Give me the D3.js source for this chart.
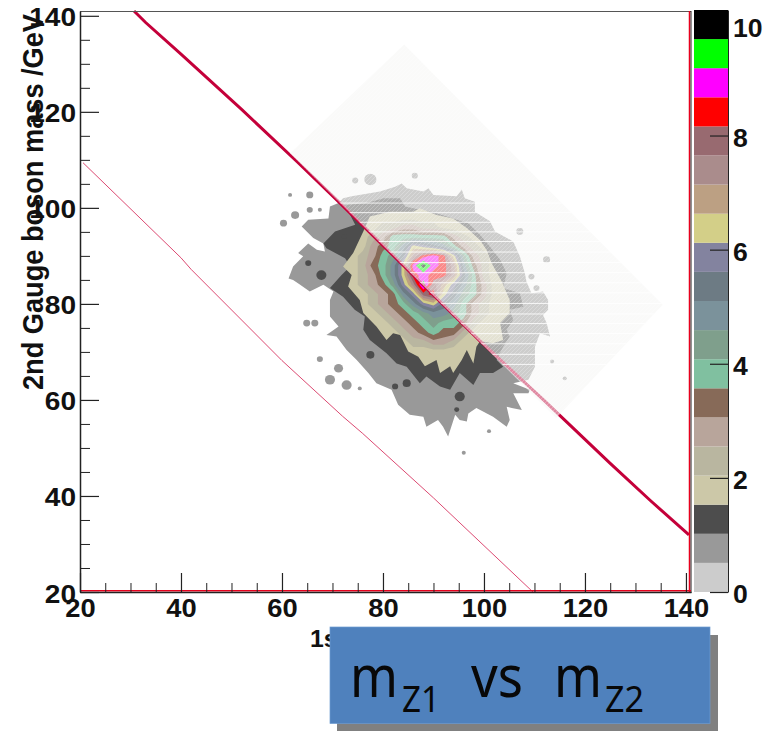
<!DOCTYPE html>
<html><head><meta charset="utf-8">
<script src="https://cdn.jsdelivr.net/npm/d3@7"></script>
<style>html,body{margin:0;padding:0;background:#fff}svg{display:block}</style>
</head><body><svg id="c" width="768" height="731"></svg>
<script>
// ---- data ----
const xRange = [20, 141], yRange = [20, 141], zRange = [0, 10.2];
const xMajor = [20, 40, 60, 80, 100, 120, 140];
const yMajor = [20, 40, 60, 80, 100, 120, 140];
const zTicks = [0, 2, 4, 6, 8];
const zLabels = [0, 2, 4, 6, 8, 10];
const minorStep = [25,30,35,45,50,55,65,70,75,85,90,95,105,110,115,125,130,135];
const palette = ["#cccccc","#999999","#4d4d4d","#ccc8a8","#b9b6a0","#b8a59b","#876a58","#80c0a0","#7f9f8c","#7b929b","#6d7b84","#83839f","#d3cf88","#bca083","#aa8c8c","#986a70","#ff0000","#ff00ff","#00ff00","#000000"];
// outer contours traced in GeV (x, y)
const grayOutline = [[72.1,102],[73.8,102.4],[79.4,103.4],[82.4,104.4],[83.7,105.1],[84.7,104.1],[88,103.4],[89,104.1],[90,102.7],[94.6,102.4],[95.6,103.8],[96.2,102],[98.2,101.3],[98.2,99.2],[101.2,97.2],[102.2,95.1],[105.8,93],[107.1,89.9],[108.1,86.4],[108.4,84.7],[109.4,82.2],[111.7,82.6],[112.7,80.8],[112.7,78.8],[111.7,77.7],[112.4,76],[113.1,73.2],[111.1,73.9],[110.1,71.1],[110.1,66.9],[108.8,64.2],[105.8,63.5],[109.1,62.1],[108.8,61.4],[105.8,61.4],[107.5,57.9],[105.5,58.3],[104.5,58.6],[105.1,55.8],[104.5,54.4],[101.8,56.5],[98.5,58.3],[96.9,57.2],[96.6,55.5],[95.2,55.8],[94.3,56.9],[92.9,52.4],[91.9,54.4],[90.9,55.8],[88.6,54.4],[88,56.5],[85.3,56.9],[83,59],[81.7,62.1],[78.7,63.5],[77.1,65.6],[74.8,68.3],[72.8,70.4],[70.8,73.2],[68.8,73.5],[71.2,75.3],[69.5,77.4],[69.5,80.8],[70.2,82.6],[68.2,84],[65.5,82.6],[63.6,84],[62.2,85],[61.3,85.3],[62.2,87.8],[64.2,89.9],[63.2,90.6],[65.2,92.6],[66.9,91.3],[68.5,90.9],[68.2,92.6],[66.2,93.7],[63.9,96.1],[65.2,97.5],[69.2,97.8],[69.5,100.3],[71.2,101]];
const darkOutline = [[72.5,100.6],[76.8,101],[80.1,102],[83.4,102],[84.4,100.3],[87.3,99.6],[90.6,98.9],[93.9,97.8],[96.9,96.8],[99.2,94.4],[101.2,91.9],[103.2,89.2],[104.5,86.4],[103.8,83.3],[107.1,82.2],[107.8,79.4],[105.1,78.8],[105.8,76.7],[104.5,74.6],[105.1,73.2],[103.8,71.1],[102.5,68.3],[103.8,66.9],[101.8,65.6],[99.2,65.6],[97.9,63.1],[95.2,65.6],[93.3,62.1],[91.3,62.8],[88.6,64.9],[87.3,63.5],[84.7,66.9],[82.7,67.6],[80.7,69.7],[77.4,72.5],[76.1,74.6],[76.4,77.4],[74.4,78.8],[72.1,81.5],[69.5,83.3],[71.8,86],[73.5,87.8],[72.5,89.5],[68.8,91.6],[68.2,92.6],[70.5,95.1],[74.5,96.5],[73.5,98.5]];
const tanOutline = [[77.4,98.2],[80.1,98.9],[81.4,99.2],[86,99.2],[87.3,99.9],[90.6,98.5],[93.9,97.8],[96.6,95.8],[99.2,93.3],[100.5,91.3],[101.5,88.5],[103.5,84.7],[105.1,80.8],[105.1,78.1],[103.2,76],[103.8,72.5],[101.8,71.8],[99.2,72.2],[98.5,71.1],[97.9,67.6],[96.6,70.4],[95.6,68.3],[93.9,65.6],[93.3,67],[91.3,65.6],[90.6,68.3],[88.3,67],[87,69],[85,70.1],[83.4,73.5],[82,73.9],[80.7,72.5],[78.7,75.3],[76.1,78.1],[75.4,80.8],[73.1,83.6],[73.8,86],[72.1,87.8],[74.1,90.6],[76.1,95.1]];
// small detached patches: x, y, half-size (GeV)
const grayPatches = [[60.3,96.8,.7],[62.6,98.5,.8],[65.5,99.6,.6],[67.5,99.6,.4],[74.5,105.7,.6],[77.5,105.9,1.2],[86.3,106.7,.6],[65.5,102.7,.7],[61.6,102.7,.4],[69.5,64.2,1],[72.8,63.1,1],[71.2,66.6,.9],[67.5,68.5,.6],[64.9,76,.7],[66.5,76,.7],[75.4,62.4,.4],[112.4,89.2,.7],[109.4,85.7,.6],[110.4,83.3,.6],[107.1,95.1,.7],[113.5,68,.4],[116,64.5,.4],[101,53.5,.4],[96,49,.4]];
const darkPatches = [[67.8,86,1],[65.2,88.5,.6],[95.2,60.7,1],[82.4,62.8,.6],[84.7,63.5,.8],[77.5,69.4,.8],[94.6,58,.5],[72.3,94,.5]];
const gridX0 = 58, gridY0 = 108, gridStep = 2;
// colour-bin index of the inner 2D histogram; rows y=108..50 (step -2), columns x=58..118 (step 2)
const bins = [
[0,0,0,0,0,0,0,0,0,0,0,0,0,0,0,0,0,0,0,0,0,0,0,0,0,0,0,0,0,0,0],
[0,0,0,0,0,0,0,0,0,0,1,0,0,0,0,0,0,0,0,0,0,0,0,0,0,0,0,0,0,0,0],
[0,0,0,0,0,0,0,0,0,0,0,1,1,1,1,1,0,0,0,0,0,0,0,0,0,0,0,0,0,0,0],
[0,0,0,0,0,0,0,0,1,1,1,1,2,1,1,1,1,1,1,0,0,0,0,0,0,0,0,0,0,0,0],
[0,0,0,0,0,0,1,2,2,2,2,2,2,1,2,3,2,2,1,1,1,0,0,0,0,0,0,0,0,0,0],
[0,0,0,0,1,1,1,2,2,3,3,3,3,3,3,3,3,3,2,2,1,1,1,0,0,0,0,0,0,0,0],
[0,0,0,1,1,1,1,2,2,3,3,4,4,5,5,4,4,3,3,2,2,1,1,0,0,0,0,0,0,0,0],
[0,0,0,1,1,1,2,2,2,3,4,5,7,7,7,7,7,7,5,4,3,2,1,1,0,0,0,0,0,0,0],
[0,0,0,1,0,1,2,2,3,3,5,6,7,9,12,11,10,9,7,5,4,3,2,1,0,0,0,0,0,0,0],
[0,0,1,1,1,1,2,2,3,4,5,7,8,10,14,16,17,16,12,8,5,4,3,2,1,0,0,0,0,0,0],
[0,0,1,1,1,1,2,3,3,4,6,7,9,12,17,19,17,16,14,9,6,4,3,2,1,0,0,0,0,0,0],
[0,0,1,1,1,2,1,2,3,4,5,7,9,12,16,17,16,16,14,10,7,4,3,2,1,1,0,0,0,0,0],
[0,0,0,1,1,1,2,2,3,4,5,6,8,11,14,18,15,13,11,9,7,5,3,2,1,1,1,0,0,0,0],
[0,0,1,1,1,1,1,2,3,3,4,5,6,9,11,15,16,12,10,8,7,5,3,2,1,1,1,0,0,0,0],
[0,0,0,0,0,1,1,2,2,3,4,5,6,7,9,11,12,10,9,7,5,4,3,2,1,1,1,0,0,0,0],
[0,0,0,0,0,0,1,1,2,2,3,4,5,6,7,8,9,9,8,7,5,4,3,2,1,1,1,0,0,0,0],
[0,0,0,0,1,0,1,1,1,2,3,3,4,5,6,7,8,7,7,6,4,3,2,2,1,1,1,0,0,0,0],
[0,0,0,0,0,1,1,1,1,2,2,3,3,4,5,6,7,6,6,4,3,3,2,2,1,1,0,0,0,0,0],
[0,0,0,0,0,0,0,1,1,1,1,2,3,3,4,4,5,5,4,3,2,2,2,1,1,1,0,0,0,0,0],
[0,0,0,0,0,0,0,1,1,1,1,1,2,2,3,3,3,3,3,3,2,2,2,1,1,1,0,0,0,0,0],
[0,0,0,0,0,0,0,0,1,1,1,1,1,1,2,3,2,3,2,2,2,2,2,1,1,0,0,0,0,0,0],
[0,0,0,0,0,0,0,0,0,0,1,1,1,1,1,2,2,3,2,2,2,2,1,1,1,0,0,0,0,0,0],
[0,0,0,0,0,0,1,0,0,0,0,1,1,1,1,1,2,1,1,2,1,1,1,1,1,0,0,0,0,0,0],
[0,0,0,0,0,0,0,0,0,0,0,1,1,0,1,1,1,1,1,1,1,1,1,1,0,1,0,0,0,0,0],
[0,0,0,0,0,0,0,0,0,0,0,0,1,0,1,1,1,1,2,1,0,1,1,0,1,0,0,0,0,0,0],
[0,0,0,0,0,0,0,0,0,0,0,0,0,0,0,1,1,1,1,1,0,1,1,0,1,0,0,0,0,0,0],
[0,0,0,0,0,0,0,0,0,0,0,0,0,0,0,0,0,1,1,1,1,1,0,0,0,0,0,0,0,0,0],
[0,0,0,0,0,0,0,0,0,0,0,0,0,0,0,0,0,1,0,1,0,0,0,0,0,0,0,0,0,0,0],
[0,0,0,0,0,0,0,0,0,0,0,0,0,0,0,0,0,0,0,0,0,0,0,0,0,0,0,0,0,0,0],
[0,0,0,0,0,0,0,0,0,0,0,0,0,0,0,0,0,0,0,0,0,0,0,0,0,0,0,0,0,0,0]
];
const thickLine = [[30.7,141],[33,138.6],[40,132],[52,120.5],[63,109.6],[71.5,101],[85,87],[99.2,72.3],[112,59.8],[116,55.8],[125,46.8],[133,39],[140.6,31.9]];
const thinLine = [[20.6,109.4],[40,89.6],[42,87.2],[60,68.2],[72,56.6],[76,53],[90,39.6],[109.7,20]];
const washCorners = [[84.2,134],[135.4,79.8],[114.3,56.25],[61.6,111.4]];
const stripeYs = [101,99,97,95,93,90.8,88.6,86.5,84.4,82.3,80.1,77.9,75.9,73.8,71.7,69.5,67.4];
const yTitle = "2nd Gauge boson mass /GeV";
const xTitle = "1st Gauge boson mass /GeV";
// ---- drawing ----
const svg = d3.select("#c");
const FONT = "'Liberation Sans', Arial, sans-serif";
const x = d3.scaleLinear().domain(xRange).range([80, 691]);
const y = d3.scaleLinear().domain(yRange).range([592, 11]);
const z = d3.scaleLinear().domain(zRange).range([592, 10]);

const plot = svg.append("g");
const outline = d3.line().x(d => x(d[0])).y(d => y(d[1])).curve(d3.curveLinearClosed);
plot.append("path").attr("d", outline(grayOutline)).attr("fill", palette[1]);
const patch = (data, fill) => plot.append("g").selectAll("ellipse").data(data).join("ellipse")
  .attr("cx", d => x(d[0])).attr("cy", d => y(d[1]))
  .attr("rx", d => x(d[2]) - x(0)).attr("ry", d => y(0) - y(d[2])).attr("fill", fill);
patch(grayPatches, palette[1]);
plot.append("path").attr("d", outline(darkOutline)).attr("fill", palette[2]);
patch(darkPatches, palette[2]);
plot.append("path").attr("d", outline(tanOutline)).attr("fill", palette[3]);

const nRows = bins.length, nCols = bins[0].length;
const levels = d3.range(4, palette.length);
const contours = d3.contours().size([nCols, nRows]).smooth(true)
  .thresholds(levels.map(k => k - 0.5))(bins.flat());
const proj = d3.geoTransform({point(gx, gy){
  this.stream.point(x(gridX0 + (gx - 0.5) * gridStep), y(gridY0 - (gy - 0.5) * gridStep));
}});
const path = d3.geoPath(proj);
plot.selectAll("path.band").data(contours).join("path").attr("class","band")
  .attr("d", path).attr("fill", (d, i) => palette[levels[i]]).attr("stroke", "none");

const line = d3.line().x(d => x(d[0])).y(d => y(d[1]));
plot.append("path").attr("d", line(thinLine)).attr("fill","none").attr("stroke","#dc4a72").attr("stroke-width",1);
plot.append("path").attr("d", line(thickLine)).attr("fill","none").attr("stroke","#c4003a").attr("stroke-width",3);

// washed-out overlay, as in the pasted reference
const defs = svg.append("defs");
const washPts = washCorners.map(d => [x(d[0]), y(d[1])].join(",")).join(" ");
defs.append("clipPath").attr("id","wash").append("polygon").attr("points", washPts);
const pat = defs.append("pattern").attr("id","hatch").attr("width",4).attr("height",4).attr("patternUnits","userSpaceOnUse");
pat.append("rect").attr("width",4).attr("height",4).attr("fill","#f7f7f4").attr("fill-opacity",0.56);
pat.append("path").attr("d","M0,4L4,0").attr("stroke","#ffffff").attr("stroke-opacity",0.25).attr("stroke-width",1);
plot.append("polygon").attr("points", washPts).attr("fill","url(#hatch)");
plot.append("g").attr("clip-path","url(#wash)").selectAll("line").data(stripeYs).join("line")
  .attr("x1", x(20)).attr("x2", x(140)).attr("y1", d => y(d)).attr("y2", d => y(d))
  .attr("stroke","#fff").attr("stroke-opacity",0.85).attr("stroke-width",1);

// frame
svg.append("line").attr("x1",80).attr("x2",691).attr("y1",11.5).attr("y2",11.5).attr("stroke","#555").attr("stroke-width",1);
svg.append("line").attr("x1",x(xRange[1])-1.5).attr("x2",x(xRange[1])-1.5).attr("y1",11).attr("y2",592).attr("stroke","#e8001c").attr("stroke-width",1.5);
svg.append("line").attr("x1",x(xRange[1])).attr("x2",x(xRange[1])).attr("y1",11).attr("y2",593).attr("stroke","#222").attr("stroke-width",1);
svg.append("line").attr("x1",80).attr("x2",691).attr("y1",590.8).attr("y2",590.8).attr("stroke","#e8001c").attr("stroke-width",1.6);

const tickStyle = g => {
  g.selectAll("text").attr("font-family",FONT).attr("font-weight","bold").attr("font-size",26).attr("fill","#111");
  g.selectAll("line,path").attr("stroke","#222");
};
// left axis
const yg = svg.append("g").attr("transform","translate(80,0)");
yg.call(d3.axisLeft(y).tickValues(yMajor).tickSize(-19).tickPadding(0).tickSizeOuter(0));
yg.call(g => g.selectAll(".minor").data(minorStep).join("line").attr("class","minor").attr("x1",0).attr("x2",10).attr("y1",d=>y(d)+.5).attr("y2",d=>y(d)+.5));
tickStyle(yg);
yg.select(".domain").attr("stroke-width",1.5);
yg.selectAll(".tick line").attr("stroke-width",1.2);
yg.selectAll(".tick text").attr("x",0).attr("dy",0).attr("y",10)
  .attr("text-anchor","end").attr("transform","translate(-4,0) scale(1.08,1)");
// bottom axis
const xg = svg.append("g").attr("transform","translate(0,592)");
xg.call(d3.axisBottom(x).tickValues(xMajor).tickSize(-19).tickPadding(0).tickSizeOuter(0));
xg.call(g => g.selectAll(".minor").data(minorStep).join("line").attr("class","minor").attr("x1",d=>x(d)+.5).attr("x2",d=>x(d)+.5).attr("y1",0).attr("y2",-9));
tickStyle(xg);
xg.select(".domain").attr("stroke-width",1.5);
xg.selectAll(".tick line").attr("stroke-width",1.2);
xg.selectAll(".tick text").attr("y",25).attr("dy",0).attr("x",0).attr("text-anchor","middle")
  .attr("textLength",d=>String(d).length*15.2).attr("lengthAdjust","spacingAndGlyphs");

// titles
svg.append("text").attr("transform","translate(43,390) rotate(-90)").attr("font-family",FONT).attr("font-weight","bold")
  .attr("font-size",29).attr("fill","#111").attr("textLength",376).attr("lengthAdjust","spacingAndGlyphs").text(yTitle);
svg.append("text").attr("x",310).attr("y",647).attr("font-family",FONT).attr("font-weight","bold")
  .attr("font-size",24).attr("fill","#111").attr("textLength",335).attr("lengthAdjust","spacingAndGlyphs").text(xTitle);

// colour bar
const barBins = d3.range(palette.length);
const binW = zRange[1] / palette.length;
svg.append("g").selectAll("rect").data(barBins).join("rect")
  .attr("x",694).attr("width",34)
  .attr("y",i=>z((i+1)*binW)).attr("height",i=>z(i*binW)-z((i+1)*binW))
  .attr("fill",i=>palette[i]);
const zg = svg.append("g").attr("transform","translate(728,0)");
zg.call(d3.axisRight(z).tickValues(zTicks).tickSize(-18).tickPadding(0).tickSizeOuter(0).tickFormat(()=> ""));
zg.selectAll("line,path").attr("stroke","#222");
zg.selectAll(".tick line").attr("stroke-width",1.2);
svg.append("g").selectAll("text").data(zLabels).join("text")
  .attr("x",733).attr("y",d=>d===10?37:z(d)+11).attr("font-family",FONT).attr("font-weight","bold")
  .attr("font-size",26).attr("fill","#111")
  .attr("textLength",d=>String(d).length*14.8).attr("lengthAdjust","spacingAndGlyphs").text(d=>d);

// caption box
svg.append("rect").attr("x",337).attr("y",635).attr("width",381).attr("height",96).attr("fill","#808080");
svg.append("rect").attr("x",330).attr("y",627).attr("width",380).attr("height",96.5).attr("fill","#4f81bd").attr("stroke","#6d9bd1").attr("stroke-width",.7);
const cap = svg.append("g").attr("font-family","'Noto Sans',sans-serif").attr("fill","#080808");
const t = (s,xx,yy,fs,w)=>cap.append("text").attr("x",xx).attr("y",yy).attr("font-size",fs).attr("textLength",w).attr("lengthAdjust","spacingAndGlyphs").text(s);
t("m",350,697,58,48);
t("Z1",402,712,36,38);
t("vs",471,697,58,52);
t("m",554,697,58,48);
t("Z2",605,712,36,39);
</script></body></html>
